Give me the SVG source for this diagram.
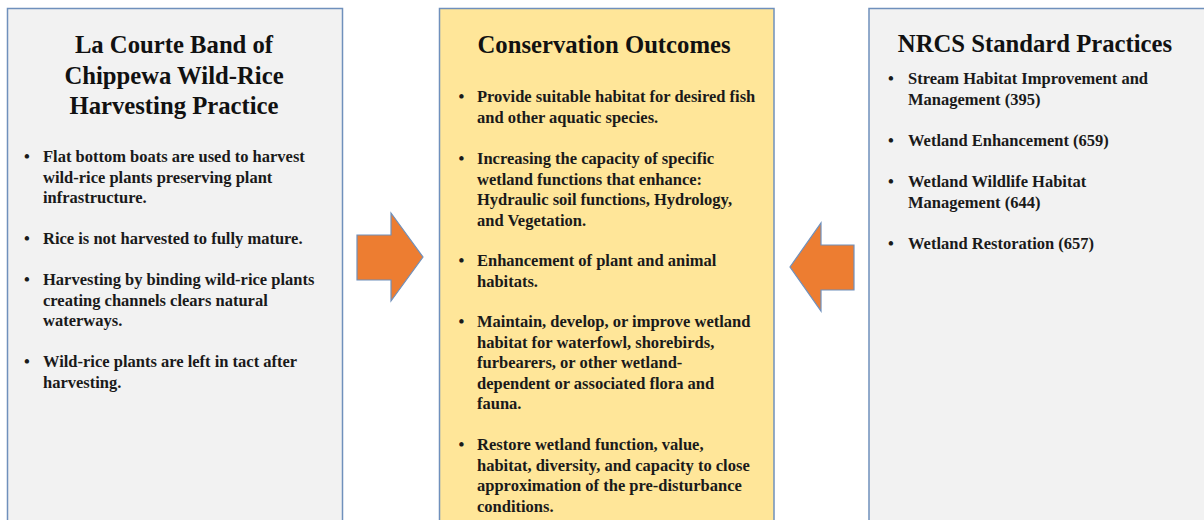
<svg xmlns="http://www.w3.org/2000/svg" width="1204" height="520" viewBox="0 0 1204 520">
<style>
.box{stroke:#6f90bc;stroke-width:1.5}
.grey{fill:#f2f2f2}
.gold{fill:#ffe699}
text{font-family:'Liberation Serif',Tinos,'Times New Roman','DejaVu Serif',serif;font-weight:700}
.title{font-size:24.7px;fill:#111;text-anchor:middle}
.t{font-size:16.5px;fill:#1a1a1a}
.b{font-size:16.5px;fill:#1a1a1a;text-anchor:middle}
.arrow{fill:#ed7d31;stroke:#6f90bc;stroke-width:1.2;stroke-linejoin:miter}
</style>
<rect width="1204" height="520" fill="#ffffff"/>
<g id="node-wild-rice">
<rect class="box grey" x="7.5" y="8.5" width="335" height="520"/>
<text class="title" x="174" y="53">La Courte Band of</text>
<text class="title" x="174" y="83.5">Chippewa Wild-Rice</text>
<text class="title" x="174" y="114">Harvesting Practice</text>
<text class="b" x="27" y="162">•</text>
<text class="t" x="43" y="162">Flat bottom boats are used to harvest</text>
<text class="t" x="43" y="182.5">wild-rice plants preserving plant</text>
<text class="t" x="43" y="203">infrastructure.</text>
<text class="b" x="27" y="244">•</text>
<text class="t" x="43" y="244">Rice is not harvested to fully mature.</text>
<text class="b" x="27" y="285">•</text>
<text class="t" x="43" y="285">Harvesting by binding wild-rice plants</text>
<text class="t" x="43" y="305.5">creating channels clears natural</text>
<text class="t" x="43" y="326">waterways.</text>
<text class="b" x="27" y="367">•</text>
<text class="t" x="43" y="367">Wild-rice plants are left in tact after</text>
<text class="t" x="43" y="387.5">harvesting.</text>
</g>
<g id="node-outcomes">
<rect class="box gold" x="439.5" y="8.5" width="334.5" height="520"/>
<text class="title" x="604" y="53">Conservation Outcomes</text>
<text class="b" x="461.5" y="102">•</text>
<text class="t" x="477" y="102">Provide suitable habitat for desired fish</text>
<text class="t" x="477" y="122.5">and other aquatic species.</text>
<text class="b" x="461.5" y="164">•</text>
<text class="t" x="477" y="164">Increasing the capacity of specific</text>
<text class="t" x="477" y="184.5">wetland functions that enhance:</text>
<text class="t" x="477" y="205">Hydraulic soil functions, Hydrology,</text>
<text class="t" x="477" y="225.5">and Vegetation.</text>
<text class="b" x="461.5" y="266">•</text>
<text class="t" x="477" y="266">Enhancement of plant and animal</text>
<text class="t" x="477" y="286.5">habitats.</text>
<text class="b" x="461.5" y="327">•</text>
<text class="t" x="477" y="327">Maintain, develop, or improve wetland</text>
<text class="t" x="477" y="347.5">habitat for waterfowl, shorebirds,</text>
<text class="t" x="477" y="368">furbearers, or other wetland-</text>
<text class="t" x="477" y="388.5">dependent or associated flora and</text>
<text class="t" x="477" y="409">fauna.</text>
<text class="b" x="461.5" y="450">•</text>
<text class="t" x="477" y="450">Restore wetland function, value,</text>
<text class="t" x="477" y="470.5">habitat, diversity, and capacity to close</text>
<text class="t" x="477" y="491">approximation of the pre-disturbance</text>
<text class="t" x="477" y="511.5">conditions.</text>
</g>
<g id="node-nrcs">
<rect class="box grey" x="869" y="8.5" width="345" height="520"/>
<text class="title" x="1035" y="52">NRCS Standard Practices</text>
<text class="b" x="891" y="84">•</text>
<text class="t" x="908" y="84">Stream Habitat Improvement and</text>
<text class="t" x="908" y="104.5">Management (395)</text>
<text class="b" x="891" y="145.5">•</text>
<text class="t" x="908" y="145.5">Wetland Enhancement (659)</text>
<text class="b" x="891" y="187">•</text>
<text class="t" x="908" y="187">Wetland Wildlife Habitat</text>
<text class="t" x="908" y="207.5">Management (644)</text>
<text class="b" x="891" y="249">•</text>
<text class="t" x="908" y="249">Wetland Restoration (657)</text>
</g>
<g id="connectors">
<polygon id="arrow-left-to-center" class="arrow" points="357,235 391,235 391,213 423,257 391,301 391,280 357,280"/>
<polygon id="arrow-right-to-center" class="arrow" points="854,245 821,245 821,223 790,267 821,311 821,290 854,290"/>
</g>
</svg>
